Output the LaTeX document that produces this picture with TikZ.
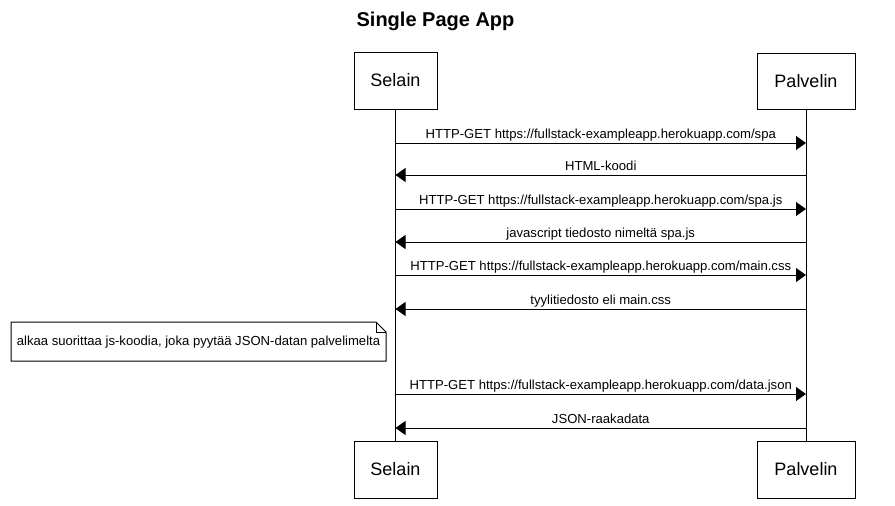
\documentclass[tikz,border=0pt]{standalone}
\usepackage{fontspec}
\setmainfont{Liberation Sans}
\usetikzlibrary{arrows.meta}
\begin{document}
\begin{tikzpicture}[x=1pt,y=-1pt,
  actor/.style={draw,line width=1pt,inner sep=0pt,font=\fontsize{18}{20}\selectfont},
  lifeline/.style={line width=1pt},
  msg/.style={line width=1pt,-{Triangle[length=10pt,width=14pt]}},
  lbl/.style={anchor=base,inner sep=0pt,font=\fontsize{13.1}{15}\selectfont},
  notetext/.style={inner sep=0pt,font=\fontsize{13.1}{15}\selectfont}]
\useasboundingbox (0,0) rectangle (895,506);
\node[font=\bfseries\fontsize{20}{22}\selectfont] (title) at (435.5,21) {Single Page App};
\node[actor,minimum width=83pt,minimum height=57pt] (selT) at (395.5,80.5) {Selain};
\node[actor,minimum width=98pt,minimum height=56pt] (palT) at (806,81) {Palvelin};
\node[actor,minimum width=83pt,minimum height=57pt] (selB) at (395.5,469.5) {Selain};
\node[actor,minimum width=98pt,minimum height=57pt] (palB) at (806,469.5) {Palvelin};
\draw[lifeline] (selT.south) -- (selB.north);
\draw[lifeline] (palT.south) -- (palB.north);
% message points
\foreach \i/\y in {1/143,2/175,3/209,4/242,5/275,6/309,7/394,8/428}{
  \coordinate (s\i) at (selT.south |- 0,\y);
  \coordinate (p\i) at (palT.south |- 0,\y);
}
\draw[msg] (s1) -- node[lbl,yshift=4.6pt] (l1) {HTTP-GET https://fullstack-exampleapp.herokuapp.com/spa} (p1);
\draw[msg] (p2) -- node[lbl,yshift=4.6pt] (l2) {HTML-koodi} (s2);
\draw[msg] (s3) -- node[lbl,yshift=4.6pt] (l3) {HTTP-GET https://fullstack-exampleapp.herokuapp.com/spa.js} (p3);
\draw[msg] (p4) -- node[lbl,yshift=4.6pt] (l4) {javascript tiedosto nimeltä spa.js} (s4);
\draw[msg] (s5) -- node[lbl,yshift=4.6pt] (l5) {HTTP-GET https://fullstack-exampleapp.herokuapp.com/main.css} (p5);
\draw[msg] (p6) -- node[lbl,yshift=4.6pt] (l6) {tyylitiedosto eli main.css} (s6);
\draw[msg] (s7) -- node[lbl,yshift=4.6pt] (l7) {HTTP-GET https://fullstack-exampleapp.herokuapp.com/data.json} (p7);
\draw[msg] (p8) -- node[lbl,yshift=4.6pt] (l8) {JSON-raakadata} (s8);
% note
\draw[line width=1pt] (11,322) -- (376,322) -- (386,332) -- (386,361) -- (11,361) -- cycle;
\draw[line width=1pt] (376,322) -- (376,332) -- (386,332);
\node[notetext] (note) at (198.5,342) {alkaa suorittaa js-koodia, joka pyytää JSON-datan palvelimelta};
\end{tikzpicture}
\end{document}
